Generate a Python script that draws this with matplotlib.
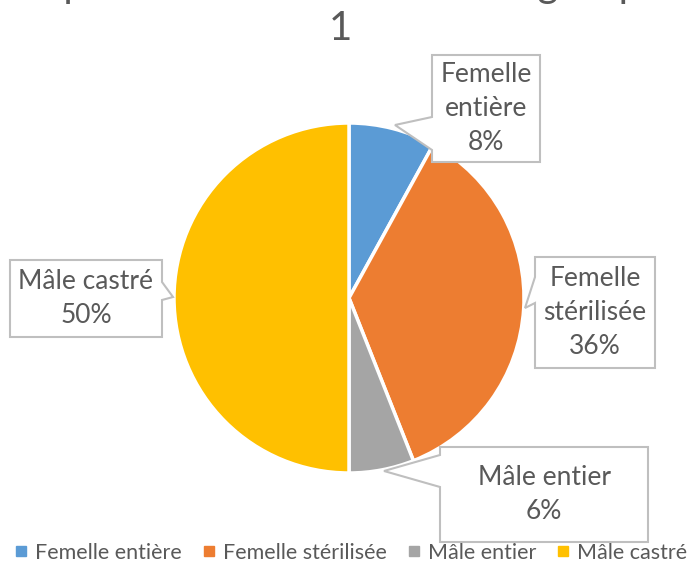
import matplotlib
matplotlib.use("Agg")
import matplotlib.pyplot as plt
from matplotlib.patches import Polygon
from matplotlib.lines import Line2D

categories = ["Femelle entière", "Femelle stérilisée", "Mâle entier", "Mâle castré"]
values = [8, 36, 6, 50]
colors = ["#5B9BD5", "#ED7D31", "#A5A5A5", "#FFC000"]
title = "Répartition des sexes dans le groupe\n1"

W, H = 698, 568
FONT = ["Lato", "DejaVu Sans"]
TXT = "#595959"

fig = plt.figure(figsize=(W / 100, H / 100), dpi=100)
ax = fig.add_axes([0, 0, 1, 1])


def py(y):
    # pixel row (from top) to data y
    return H - y


# pie
cx, cy, r = 349, 298, 175
ax.pie(values, colors=colors, startangle=90, counterclock=False,
       center=(cx, py(cy)), radius=r, frame=True,
       wedgeprops=dict(edgecolor="white", linewidth=2.5))
ax.set_xlim(0, W)
ax.set_ylim(0, H)
ax.set_aspect("equal")
ax.axis("off")

# callout boxes: (x0, y0, x1, y1), tip, side, base span on that side, wrap name
callouts = [
    dict(box=(432, 55, 540, 162), tip=(395, 125), side="left", base=(117, 150), wrap=True),
    dict(box=(535, 257, 655, 368), tip=(525, 308), side="left", base=(277, 303), wrap=True),
    dict(box=(440, 447, 648, 542), tip=(384, 471), side="left", base=(455, 487), wrap=False),
    dict(box=(10, 260, 162, 337), tip=(173, 297), side="right", base=(282, 300), wrap=False),
]

for cat, val, c in zip(categories, values, callouts):
    x0, y0, x1, y1 = c["box"]
    tx, ty = c["tip"]
    b0, b1 = c["base"]
    if c["side"] == "left":
        pts = [(x0, y0), (x1, y0), (x1, y1), (x0, y1), (x0, b1), (tx, ty), (x0, b0)]
    else:
        pts = [(x0, y0), (x1, y0), (x1, b0), (tx, ty), (x1, b1), (x1, y1), (x0, y1)]
    poly = Polygon([(x, py(y)) for x, y in pts], closed=True,
                   facecolor="white", edgecolor="#BFBFBF", linewidth=1.5, zorder=5)
    ax.add_patch(poly)
    label = cat.replace(" ", "\n", 1) if c["wrap"] else cat
    ax.text((x0 + x1) / 2, py((y0 + y1) / 2), f"{label}\n{val}%",
            ha="center", va="center", fontsize=19, color=TXT,
            family=FONT, linespacing=1.45, zorder=6)

# title, first line runs off the top edge
ax.text(340, py(40), title, ha="center", va="baseline", fontsize=29,
        color=TXT, family=FONT, linespacing=1.2, multialignment="center")

# legend
handles = [Line2D([0], [0], marker="s", linestyle="none", markersize=6.5,
                  markerfacecolor=col, markeredgecolor=col) for col in colors]
leg = fig.legend(handles, categories, loc="center", bbox_to_anchor=(0.503, 1 - 553 / H),
                 ncol=4, frameon=False, handlelength=0.6, handletextpad=0.35,
                 columnspacing=0.95, borderpad=0.0, borderaxespad=0.0,
                 prop=dict(family=FONT, size=15.5))
for t in leg.get_texts():
    t.set_color(TXT)

fig.savefig("out.png", dpi=100)
